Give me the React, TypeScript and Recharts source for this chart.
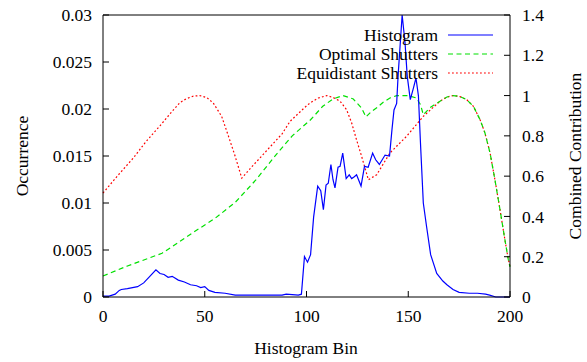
import { ComposedChart, Line, XAxis, YAxis } from "recharts";

const histBins = [
  0, 3, 6, 8, 9, 12, 17, 20, 23, 26, 28, 30, 32, 34, 37, 40, 43, 46, 48, 50, 52, 55, 60, 65, 70,
  80, 88, 90, 96, 97.5, 99, 100.5, 102, 103.5, 105.5, 107, 108.3, 109.6, 110.7, 112, 113, 114,
  115.5, 116.5, 117.8, 119.5, 121, 122.2, 123.5, 124.6, 126.8, 128.5, 130.3, 132.5, 134, 135.8,
  138.6, 140.8, 142, 143, 144.3, 145, 147, 148.4, 149.5, 151, 152.5, 153.8, 155, 156, 157.4, 159,
  161, 164, 167, 169, 172, 175, 180, 184, 188, 190, 193, 200,
];
const histValues = [
  0.0001, 0.0001, 0.0003, 0.0007, 0.0008, 0.0009, 0.0011, 0.0015, 0.0022, 0.0029, 0.0025, 0.0024,
  0.0021, 0.0022, 0.0018, 0.0016, 0.0013, 0.0012, 0.001, 0.0011, 0.0007, 0.0005, 0.0004, 0.0002,
  0.0002, 0.0002, 0.0002, 0.0003, 0.0002, 0.0003, 0.0043, 0.0037, 0.0045, 0.0085, 0.0118, 0.0113,
  0.0093, 0.0119, 0.0121, 0.0141, 0.0125, 0.0116, 0.0138, 0.0139, 0.0153, 0.0126, 0.013, 0.0126,
  0.0128, 0.013, 0.0118, 0.0139, 0.0138, 0.0153, 0.0146, 0.0141, 0.0151, 0.015, 0.0178, 0.0199,
  0.0206, 0.0235, 0.03, 0.0271, 0.0235, 0.021, 0.0222, 0.0233, 0.0214, 0.0164, 0.01, 0.0075,
  0.0045, 0.0025, 0.0017, 0.0013, 0.0008, 0.0005, 0.0004, 0.0004, 0.0003, 0.0002, 0, 0,
];

const optBins = [
  0, 12, 29, 45, 55, 65, 75, 85, 93, 102, 108, 113, 118, 123, 127, 129.2, 132, 134.5, 137.7, 141,
  144.3, 150, 154, 156, 157.4, 160.7, 165.6, 169, 172, 175.4, 178.7, 182, 185.3, 187.7, 190.2,
  192.6, 195.1, 197.5, 199.2, 200,
];
const optValues = [
  0.104, 0.154, 0.217, 0.325, 0.39, 0.47, 0.58, 0.706, 0.8, 0.88, 0.947, 0.983, 1.0, 0.983, 0.939,
  0.894, 0.922, 0.939, 0.967, 0.988, 1.0, 1.0, 0.988, 0.955, 0.905, 0.94, 0.972, 0.993, 1.0, 0.995,
  0.98, 0.947, 0.88, 0.814, 0.715, 0.582, 0.433, 0.284, 0.184, 0.15,
];

const equiBins = [
  0, 7, 14.9, 21, 28, 34, 37.8, 41, 44.4, 47.6, 51, 54.2, 58.3, 61.6, 64.9, 68.2, 73, 78, 88, 91.9,
  98.9, 101.7, 105.8, 110, 113.2, 116.5, 119.7, 122.2, 124.6, 127.1, 130.4, 134.5, 141, 149.2,
  157.4, 165.6, 169, 172, 175.4, 178.7, 182, 185.3, 187.7, 190.2, 192.6, 195.1, 197.5, 199.2, 200,
];
const equiValues = [
  0.516, 0.6, 0.69, 0.77, 0.85, 0.922, 0.965, 0.985, 0.997, 1.0, 0.99, 0.963, 0.897, 0.8, 0.7,
  0.59, 0.645, 0.7, 0.81, 0.872, 0.939, 0.963, 0.988, 1.0, 0.99, 0.972, 0.93, 0.864, 0.78, 0.698,
  0.582, 0.607, 0.715, 0.798, 0.897, 0.972, 0.993, 1.0, 0.995, 0.98, 0.947, 0.88, 0.814, 0.715,
  0.582, 0.433, 0.284, 0.184, 0.15,
];

const xTicks = [0, 50, 100, 150, 200];
const leftTicks = [0, 0.005, 0.01, 0.015, 0.02, 0.025, 0.03];
const rightTicks = [0, 0.2, 0.4, 0.6, 0.8, 1, 1.2, 1.4];
const legendNames = ["Histogram", "Optimal Shutters", "Equidistant Shutters"];

const histData = histBins.map((x, i) => ({ x, y: histValues[i] }));
const optData = optBins.map((x, i) => ({ x, y: optValues[i] }));
const equiData = equiBins.map((x, i) => ({ x, y: equiValues[i] }));

const FONT = "Liberation Serif, serif";
const tickStyle = { fontFamily: FONT, fontSize: 17.5, fill: "#000" };
const BLUE = "#0000ff";
const GREEN = "#00e000";
const RED = "#ff0000";

const App = () => (
  <div style={{ position: "absolute", left: 0, top: 0, width: 587, height: 362, background: "#fff" }}>
    <ComposedChart
      width={587}
      height={362}
      margin={{ top: 14, right: 76, left: 102, bottom: 64 }}
    >
      <XAxis
        xAxisId="bottom"
        type="number"
        dataKey="x"
        domain={[0, 200]}
        ticks={xTicks}
        height={1}
        tickSize={-6}
        tickMargin={19}
        tick={tickStyle}
        axisLine={{ stroke: "#000" }}
        tickLine={{ stroke: "#000" }}
      />
      <XAxis
        xAxisId="top"
        orientation="top"
        type="number"
        dataKey="x"
        domain={[0, 200]}
        ticks={xTicks}
        height={1}
        tickSize={-6}
        tick={() => <g />}
        axisLine={{ stroke: "#000" }}
        tickLine={{ stroke: "#000" }}
      />
      <YAxis
        yAxisId="left"
        type="number"
        domain={[0, 0.03]}
        ticks={leftTicks}
        width={1}
        tickSize={-6}
        tickMargin={17}
        tick={tickStyle}
        axisLine={{ stroke: "#000" }}
        tickLine={{ stroke: "#000" }}
      />
      <YAxis
        yAxisId="right"
        orientation="right"
        type="number"
        domain={[0, 1.4]}
        ticks={rightTicks}
        width={1}
        tickSize={-6}
        tickMargin={18}
        tick={tickStyle}
        axisLine={{ stroke: "#000" }}
        tickLine={{ stroke: "#000" }}
      />
      <Line
        data={equiData}
        xAxisId="bottom"
        yAxisId="right"
        dataKey="y"
        type="linear"
        stroke={RED}
        strokeWidth={1.2}
        strokeDasharray="1.8 2.2"
        dot={false}
        isAnimationActive={false}
      />
      <Line
        data={optData}
        xAxisId="bottom"
        yAxisId="right"
        dataKey="y"
        type="linear"
        stroke={GREEN}
        strokeWidth={1.2}
        strokeDasharray="5 3.5"
        dot={false}
        isAnimationActive={false}
      />
      <Line
        data={histData}
        xAxisId="bottom"
        yAxisId="left"
        dataKey="y"
        type="linear"
        stroke={BLUE}
        strokeWidth={1.2}
        dot={false}
        isAnimationActive={false}
      />
    </ComposedChart>
    <svg
      width={587}
      height={362}
      style={{ position: "absolute", left: 0, top: 0, pointerEvents: "none" }}
      fontFamily={FONT}
      fontSize={17.5}
    >
      {legendNames.map((name, i) => {
        const y = 35 + i * 19;
        return (
          <g key={name}>
            <text x={438} y={y} textAnchor="end" dominantBaseline="central" fill="#000">
              {name}
            </text>
            <line
              x1={448}
              x2={493}
              y1={y}
              y2={y}
              stroke={[BLUE, GREEN, RED][i]}
              strokeWidth={1.2}
              strokeDasharray={["", "5 3.5", "1.8 2.2"][i]}
            />
          </g>
        );
      })}
      <text x={22} y={156} transform="rotate(-90 22 156)" textAnchor="middle" dominantBaseline="central">
        Occurrence
      </text>
      <text x={575} y={156} transform="rotate(-90 575 156)" textAnchor="middle" dominantBaseline="central">
        Combined Contribution
      </text>
      <text x={306} y={348} textAnchor="middle" dominantBaseline="central">
        Histogram Bin
      </text>
    </svg>
  </div>
);

export default App;
